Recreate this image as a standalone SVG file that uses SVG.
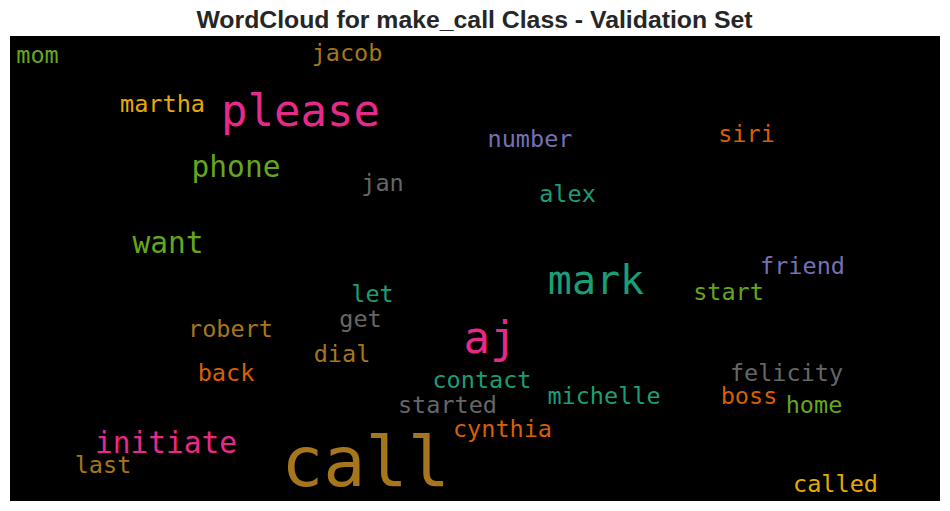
<svg xmlns="http://www.w3.org/2000/svg" width="950" height="511" viewBox="0 0 950 511">
<style>
.t{font-family:"Liberation Sans",Arial,sans-serif;font-weight:bold;font-size:24.8px;fill:#262626}
.w{font-family:"DejaVu Sans Mono","Liberation Mono",monospace;text-anchor:middle;font-size:23.5px}
.m{font-size:29.5px}
.tl{fill:#1b9e77}.or{fill:#d95f02}.pu{fill:#7570b3}.pk{fill:#e7298a}
.gr{fill:#66a61e}.ye{fill:#e6ab02}.br{fill:#a6761d}.gy{fill:#666666}
</style>
<rect width="950" height="511" fill="#ffffff"/>
<text class="t" x="474.5" y="28" text-anchor="middle">WordCloud for make_call Class - Validation Set</text>
<rect x="10" y="36" width="930" height="465" fill="#000000"/>
<g id="words">
<text class="w gr" x="37.5" y="63">mom</text>
<text class="w br" x="347" y="61">jacob</text>
<text class="w ye" x="162.5" y="112">martha</text>
<text class="w pk" x="300.5" y="126" style="font-size:44px">please</text>
<text class="w m gr" x="236" y="177">phone</text>
<text class="w gy" x="382.5" y="191">jan</text>
<text class="w m gr" x="168" y="253">want</text>
<text class="w pu" x="530" y="147">number</text>
<text class="w or" x="746.5" y="142">siri</text>
<text class="w tl" x="567.5" y="202">alex</text>
<text class="w tl" x="372.5" y="302">let</text>
<text class="w gy" x="360.5" y="327">get</text>
<text class="w br" x="230.5" y="337">robert</text>
<text class="w br" x="342" y="362">dial</text>
<text class="w or" x="226" y="381">back</text>
<text class="w tl" x="482" y="388">contact</text>
<text class="w gy" x="447.5" y="413">started</text>
<text class="w or" x="502.5" y="437">cynthia</text>
<text class="w m pk" x="166" y="453">initiate</text>
<text class="w br" x="103" y="473">last</text>
<text class="w br" x="365.5" y="486" style="font-size:70px">call</text>
<text class="w pk" x="490" y="353" style="font-size:44px">aj</text>
<text class="w tl" x="596" y="294" style="font-size:40px">mark</text>
<text class="w pu" x="802.5" y="274">friend</text>
<text class="w gr" x="728.5" y="300">start</text>
<text class="w gy" x="786.5" y="381">felicity</text>
<text class="w tl" x="604" y="404">michelle</text>
<text class="w or" x="749" y="404">boss</text>
<text class="w gr" x="814" y="413">home</text>
<text class="w ye" x="835.5" y="492">called</text>
</g>
</svg>
